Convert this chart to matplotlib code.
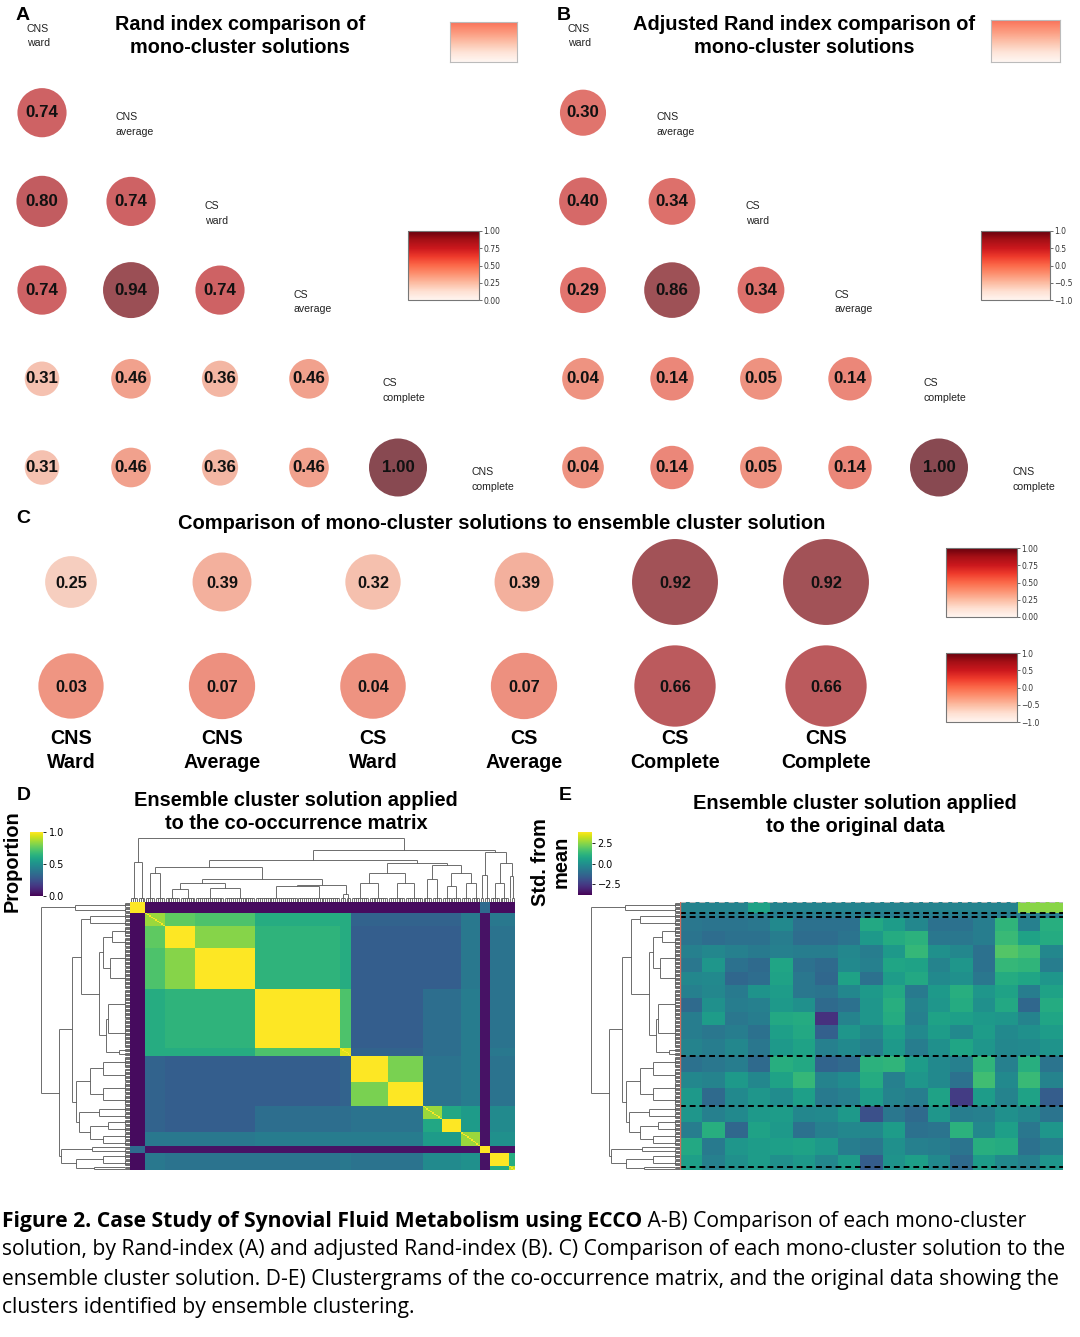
import colorsys
import numpy as np
import matplotlib
matplotlib.use('Agg')
import matplotlib.pyplot as plt
from matplotlib.collections import LineCollection
from matplotlib import colors as mcolors, cm, font_manager as fm

# ------------------------------------------------------------------ data
ab_labels = ['CNS\nward', 'CNS\naverage', 'CS\nward', 'CS\naverage', 'CS\ncomplete', 'CNS\ncomplete']
rand_rows = [[0.74],
             [0.80, 0.74],
             [0.74, 0.94, 0.74],
             [0.31, 0.46, 0.36, 0.46],
             [0.31, 0.46, 0.36, 0.46, 1.00]]
arand_rows = [[0.30],
              [0.40, 0.34],
              [0.29, 0.86, 0.34],
              [0.04, 0.14, 0.05, 0.14],
              [0.04, 0.14, 0.05, 0.14, 1.00]]

c_labels = ['CNS\nWard', 'CNS\nAverage', 'CS\nWard', 'CS\nAverage', 'CS\nComplete', 'CNS\nComplete']
c_rand = [0.25, 0.39, 0.32, 0.39, 0.92, 0.92]
c_arand = [0.03, 0.07, 0.04, 0.07, 0.66, 0.66]

# co-occurrence matrix: ordered sample groups and block proportions
seg_names = ['O1', 'C1a', 'C1b', 'C1c', 'C1d', 'C1e', 'C2a', 'C2b', 'C3a', 'C3b', 'C3c', 'O2', 'C4a', 'C4b']
seg_sizes = [8, 10, 16, 31, 44, 6, 19, 18, 10, 10, 10, 5, 10, 3]
seg_heights = [0.62, 0.45, 0.20, 0.22, 0.25, 0.12, 0.30, 0.30, 0.35, 0.25, 0.30, 0.42, 0.30, 0.40]
block_vals = [
    [1.00, .03, .03, .03, .03, .03, .03, .03, .03, .03, .03, .35, .03, .03],
    [.03, .85, .75, .72, .62, .62, .32, .32, .32, .32, .40, .05, .40, .40],
    [.03, .75, 1.0, .82, .65, .62, .30, .30, .30, .30, .40, .05, .38, .38],
    [.03, .72, .82, 1.0, .65, .62, .30, .30, .30, .30, .40, .05, .38, .38],
    [.03, .62, .65, .65, 1.0, .72, .30, .30, .36, .36, .42, .05, .38, .38],
    [.03, .62, .62, .62, .72, .95, .32, .32, .36, .36, .42, .05, .40, .40],
    [.03, .32, .30, .30, .30, .32, 1.0, .80, .38, .38, .42, .05, .38, .38],
    [.03, .32, .30, .30, .30, .32, .80, 1.0, .38, .38, .42, .05, .38, .38],
    [.03, .32, .30, .30, .36, .36, .38, .38, .85, .60, .55, .05, .48, .48],
    [.03, .32, .30, .30, .36, .36, .38, .38, .60, 1.0, .55, .05, .48, .48],
    [.03, .40, .40, .40, .42, .42, .42, .42, .55, .55, .85, .05, .50, .50],
    [.35, .05, .05, .05, .05, .05, .05, .05, .05, .05, .05, 1.0, .05, .05],
    [.03, .40, .38, .38, .38, .40, .38, .38, .48, .48, .50, .05, 1.0, .62],
    [.03, .40, .38, .38, .38, .40, .38, .38, .48, .48, .50, .05, .62, .90],
]
# dendrogram merges over groups: (child a, child b, height); ids >= 14 are earlier merges
merges = [
    (2, 3, 0.30),    # 14
    (4, 5, 0.27),    # 15
    (14, 15, 0.35),  # 16
    (1, 16, 0.55),   # 17
    (6, 7, 0.45),    # 18
    (9, 10, 0.45),   # 19
    (8, 19, 0.57),   # 20
    (18, 20, 0.60),  # 21
    (17, 21, 0.65),  # 22
    (12, 13, 0.60),  # 23
    (11, 23, 0.77),  # 24
    (22, 24, 0.80),  # 25
    (0, 25, 1.00),   # 26
]

# original data (std from mean): row bands (sample boundaries) x 17 variables
e_bounds = [0, 8, 12, 22, 32, 42, 52, 62, 72, 82, 92, 102, 115, 127, 139, 152, 164, 176, 189, 200]
e_vals = [
    [-0.4, -0.4, -0.4, 0.6, -0.4, -0.4, -0.4, -0.4, -0.4, -0.4, -0.4, -0.4, -0.4, -0.4, -0.4, 2.5, 2.5],
    [-0.6, -0.6, -0.6, -0.6, -0.6, -0.6, -0.6, -0.6, -0.6, -0.6, -0.6, -0.6, -0.6, -0.6, -0.6, -0.6, -0.6],
    [-0.8, -0.9, -0.9, -0.8, -0.2, -1.0, -1.0, -1.0, 0.8, 0.4, -0.3, -1.0, -1.0, -0.6, 1.2, -0.5, 1.0],
    [-0.9, -1.1, -1.0, -1.0, -0.6, -1.1, -1.1, -0.9, 0.3, 0.9, 1.1, -0.8, -0.8, -0.6, 1.4, 0.6, 0.9],
    [-0.5, -0.3, -0.5, -0.7, -0.5, -0.6, -0.6, -0.3, -0.6, 0.3, 1.3, 0.0, -0.3, -1.0, 1.8, 1.5, -0.3],
    [-0.8, 0.2, -1.0, -1.2, 0.7, -1.0, -1.2, -0.2, -0.5, 0.7, 0.6, -0.4, 0.2, -1.0, 1.3, 1.2, -0.6],
    [-0.3, -0.2, -1.3, -1.1, 0.6, -0.8, -1.3, 0.6, -1.0, 0.4, 0.8, -0.2, 0.0, -0.8, 0.9, 0.7, 0.2],
    [-0.5, -0.3, -0.7, 0.1, 0.4, -0.8, -0.9, -0.3, 0.3, 0.8, -0.7, 0.3, 1.0, 0.2, 0.6, -0.6, 0.6],
    [-1.2, 0.0, -0.6, -0.5, 0.3, 0.0, -1.2, -1.0, 0.2, 1.0, -0.4, 0.2, 0.9, 0.0, 0.8, -1.3, 0.9],
    [-0.6, 0.4, -0.8, -0.6, 0.8, 0.9, -2.8, -0.4, 0.2, 0.9, -0.5, 0.6, 0.5, 0.3, 0.2, -0.4, 0.7],
    [-0.6, -0.8, -0.6, -1.0, 0.5, 0.8, -1.5, 0.2, -0.3, 0.5, -0.2, 0.4, -0.2, 0.4, -0.2, 0.0, 0.4],
    [-0.4, -0.6, -0.3, -0.8, 0.3, 0.6, -0.5, -0.2, -0.6, 0.3, -0.6, 0.0, 0.7, 0.2, -0.3, -0.2, 0.1],
    [-1.0, -0.8, -0.6, -1.2, 1.0, 0.8, -1.4, -1.2, 1.1, 1.2, 0.4, -0.2, -0.5, 1.2, -0.5, 1.0, -0.9],
    [-0.3, -0.4, 0.3, -0.3, 0.6, 1.3, -0.4, -0.1, 0.9, -0.5, 0.2, -0.2, -1.0, 1.5, -0.2, 1.4, -0.4],
    [0.3, -1.2, -0.2, 0.2, -0.1, 0.5, -0.7, -0.5, 0.4, -0.4, -0.6, 0.6, -2.5, 0.4, -0.4, 0.6, -1.6],
    [0.2, -0.5, -0.2, 0.3, 0.4, -0.3, -0.2, 0.3, -2.0, -0.8, -1.2, 0.2, -0.6, -0.5, 0.0, -0.3, -0.9],
    [-0.6, 1.0, -1.3, 0.6, 0.3, -1.0, -0.5, -0.3, -0.3, 0.4, -1.0, -0.9, 1.1, -0.3, 0.5, -0.8, 0.2],
    [0.8, -0.7, 0.2, 0.4, 0.5, 0.6, 0.3, -0.6, -0.8, 0.0, -0.5, -0.6, -0.9, 1.0, 0.9, -1.0, -0.6],
    [0.5, -0.5, 0.0, 0.4, 0.0, 0.3, -0.3, 0.4, -1.6, 0.1, 0.5, -0.2, -1.2, 0.4, -0.2, -0.5, 0.2],
]
ens_bounds = [0, 8, 11, 115, 152, 198]

caption_bold = 'Figure 2. Case Study of Synovial Fluid Metabolism using ECCO'
caption_lines = [' A-B) Comparison of each mono-cluster',
                 'solution, by Rand-index (A) and adjusted Rand-index (B). C) Comparison of each mono-cluster solution to the',
                 'ensemble cluster solution. D-E) Clustergrams of the co-occurrence matrix, and the original data showing the',
                 'clusters identified by ensemble clustering.']

# ------------------------------------------------------------------ setup
plt.rcParams['font.family'] = ['Liberation Sans', 'DejaVu Sans']
W, H = 1080, 1337
fig = plt.figure(figsize=(W / 100, H / 100), dpi=100)
fig.patch.set_facecolor('white')
renderer = fig.canvas.get_renderer()


def add_ax(x0, y0, x1, y1):
    return fig.add_axes([x0 / W, 1 - y1 / H, (x1 - x0) / W, (y1 - y0) / H])


def fig_text(x, y, s, **kw):
    return fig.text(x / W, 1 - y / H, s, **kw)


def fit(t, target):
    w = t.get_window_extent(renderer).width
    t.set_fontsize(t.get_fontsize() * target / w)


reds = plt.get_cmap('Reds')
ALPHA = 0.74


def circ_color(nv, desat=0.82):
    r, g, b, _ = reds(nv)
    h, l, s = colorsys.rgb_to_hls(r, g, b)
    return colorsys.hls_to_rgb(h, l, s * desat)


def small_cbar(x0, y0, x1, y1, vmin, vmax, ticks):
    cax = add_ax(x0, y0, x1, y1)
    sm = cm.ScalarMappable(norm=mcolors.Normalize(vmin, vmax), cmap='Reds')
    cb = fig.colorbar(sm, cax=cax, ticks=ticks)
    cb.ax.tick_params(labelsize=5.5, length=2, width=0.5, pad=1, labelfontfamily='DejaVu Sans',
                      colors='#333333')
    cb.outline.set_edgecolor('#777777')
    cb.outline.set_linewidth(0.8)
    return cb


def grad_box(x0, y0, x1, y1):
    ax = add_ax(x0, y0, x1, y1)
    g = np.linspace(0.55, 0.0, 64)[:, None]
    ax.imshow(g, aspect='auto', cmap='Reds', vmin=0, vmax=1, alpha=0.85)
    ax.set_xticks([]); ax.set_yticks([])
    for sp in ax.spines.values():
        sp.set_edgecolor('#bbbbbb'); sp.set_linewidth(0.8)


def tri_panel(xc0, rows, normf):
    dx, dy, yc0 = 89.0, 88.7, 24.0
    ax = add_ax(xc0 - 0.5 * dx, yc0 - 0.5 * dy, xc0 + 5.5 * dx, yc0 + 5.5 * dy)
    ax.set_xlim(-0.5, 5.5); ax.set_ylim(5.5, -0.5); ax.axis('off')
    for i, vals in enumerate(rows, start=1):
        for j, v in enumerate(vals):
            nv = normf(v)
            d = 24 + 34 * nv
            ax.scatter([j], [i], s=(d * 0.72) ** 2, color=circ_color(nv), alpha=ALPHA,
                       edgecolors='none', clip_on=False)
            ax.text(j, i, f'{v:.2f}', ha='center', va='center', fontsize=12.2,
                    fontweight='bold', color='#111111')
    for k, lab in enumerate(ab_labels):
        ax.text(k - 0.17, k + 0.135, lab, ha='left', va='center', fontsize=7.6,
                linespacing=1.6, color='#222222')
    return ax


# ------------------------------------------------------------------ A & B
tri_panel(42, rand_rows, lambda v: v)
tri_panel(583, arand_rows, lambda v: (v + 1) / 2)
tA = fig_text(240, 36, 'Rand index comparison of\nmono-cluster solutions', ha='center', va='center',
              fontsize=14, fontweight='bold', linespacing=1.3)
fit(tA, 251)
tB = fig_text(804, 36, 'Adjusted Rand index comparison of\nmono-cluster solutions', ha='center', va='center',
              fontsize=14, fontweight='bold', linespacing=1.3)
fit(tB, 343)
grad_box(450, 22, 517, 62)
grad_box(991, 20, 1060, 62)
small_cbar(408, 231, 479, 300, 0, 1, [0, 0.25, 0.5, 0.75, 1.0])
small_cbar(981, 231, 1050, 300, -1, 1, [-1, -0.5, 0, 0.5, 1.0])

# ------------------------------------------------------------------ C
dxc = 151.0
axc = add_ax(71 - 0.5 * dxc, 530, 71 + 5.5 * dxc, 738)
axc.set_xlim(-0.5, 5.5); axc.set_ylim(1.5, -0.5); axc.axis('off')
for r, (vals, normf) in enumerate([(c_rand, lambda v: v), (c_arand, lambda v: (v + 1) / 2)]):
    for j, v in enumerate(vals):
        nv = normf(v)
        d = 39 + 51 * nv
        axc.scatter([j], [r], s=(d * 0.72) ** 2, color=circ_color(nv), alpha=ALPHA,
                    edgecolors='none', clip_on=False)
        axc.text(j, r + 0.01, f'{v:.2f}', ha='center', va='center', fontsize=11.8,
                 fontweight='bold', color='#111111')
for j, lab in enumerate(c_labels):
    axc.text(j, 1.62, lab, ha='center', va='center', fontsize=14.2, fontweight='bold',
             linespacing=1.3)
tC = fig_text(502, 523, 'Comparison of mono-cluster solutions to ensemble cluster solution',
              ha='center', va='center', fontsize=13, fontweight='bold')
fit(tC, 646)
small_cbar(946, 548, 1017, 617, 0, 1, [0, 0.25, 0.5, 0.75, 1.0])
small_cbar(946, 653, 1017, 722, -1, 1, [-1, -0.5, 0, 0.5, 1.0])

# panel letters
for s, x, y in [('A', 23, 15), ('B', 564, 15), ('C', 23, 518), ('D', 24, 795), ('E', 565, 795)]:
    fig_text(x, y, s, ha='center', va='center', fontsize=14, fontweight='bold')

# ------------------------------------------------------------------ dendrogram helper
N = int(sum(seg_sizes))
H_LOW = 0.06


def dendro_segments():
    lines = []
    pos = {}
    start = 0
    for k, (size, h) in enumerate(zip(seg_sizes, seg_heights)):
        xs = start + np.arange(size) + 0.5
        half = size // 2
        groups = [xs[:half], xs[half:]]
        centers = []
        for g in groups:
            for x in g:
                lines.append([(x, 0), (x, H_LOW)])
            lines.append([(g[0], H_LOW), (g[-1], H_LOW)])
            centers.append(g.mean())
        for c in centers:
            lines.append([(c, H_LOW), (c, h)])
        lines.append([(centers[0], h), (centers[1], h)])
        pos[k] = (np.mean(centers), h)
        start += size
    n = len(seg_sizes)
    for m, (a, b, h) in enumerate(merges):
        (xa, ha), (xb, hb) = pos[a], pos[b]
        lines += [[(xa, ha), (xa, h)], [(xb, hb), (xb, h)], [(xa, h), (xb, h)]]
        pos[n + m] = ((xa + xb) / 2, h)
    return lines


dlines = dendro_segments()


def draw_top(ax):
    ax.add_collection(LineCollection(dlines, colors='#555555', linewidths=0.6))
    ax.set_xlim(0, N); ax.set_ylim(0, 1.04); ax.axis('off')


def draw_left(ax):
    sw = [[(p[1], p[0]) for p in seg] for seg in dlines]
    ax.add_collection(LineCollection(sw, colors='#555555', linewidths=0.6))
    ax.set_ylim(N, 0); ax.set_xlim(1.03, 0); ax.axis('off')


# ------------------------------------------------------------------ D
seg_idx = np.repeat(np.arange(len(seg_sizes)), seg_sizes)
M = np.array(block_vals)[np.ix_(seg_idx, seg_idx)]
np.fill_diagonal(M, 1.0)

axd = add_ax(130, 902, 515, 1170)
axd.imshow(M, aspect='auto', cmap='viridis', vmin=0, vmax=1, interpolation='nearest',
           extent=(0, N, N, 0))
axd.axis('off')
draw_top(add_ax(130, 835, 515, 902))
draw_left(add_ax(38, 902, 130, 1170))

cax = add_ax(30, 832, 43, 896)
cb = fig.colorbar(cm.ScalarMappable(norm=mcolors.Normalize(0, 1), cmap='viridis'), cax=cax,
                  ticks=[0, 0.5, 1.0])
cb.ax.tick_params(labelsize=7, length=2.5, width=0.6, pad=1.5, labelfontfamily='DejaVu Sans')
cb.outline.set_visible(False)
fig_text(12, 861, 'Proportion', rotation=90, ha='center', va='center', fontsize=14.4, fontweight='bold')
tD = fig_text(296, 812, 'Ensemble cluster solution applied\nto the co-occurrence matrix',
              ha='center', va='center', fontsize=14, fontweight='bold', linespacing=1.3)
fit(tD, 325)

# ------------------------------------------------------------------ E
band_idx = np.repeat(np.arange(len(e_vals)), np.diff(e_bounds))
E = np.array(e_vals)[band_idx]
axe = add_ax(680, 902, 1063, 1170)
axe.imshow(E, aspect='auto', cmap='viridis', vmin=-3.9, vmax=3.9, interpolation='nearest',
           extent=(0, E.shape[1], N, 0))
axe.set_xlim(0, E.shape[1]); axe.set_ylim(N, 0)
for k, b in enumerate(ens_bounds):
    axe.axhline(b, color='#bbbbbb' if k == 0 else 'black', lw=1.4, ls=(0, (3, 2)))
axe.axvline(0.02, color='#d07060', lw=1.0)
axe.axis('off')
draw_left(add_ax(588, 902, 680, 1170))

cax = add_ax(578, 832, 592, 895)
cb = fig.colorbar(cm.ScalarMappable(norm=mcolors.Normalize(-3.9, 3.9), cmap='viridis'), cax=cax,
                  ticks=[-2.5, 0, 2.5])
cb.ax.tick_params(labelsize=7, length=2.5, width=0.6, pad=1.5, labelfontfamily='DejaVu Sans')
cb.outline.set_visible(False)
fig_text(551, 862, 'Std. from\nmean', rotation=90, ha='center', va='center', fontsize=14.4,
         fontweight='bold', linespacing=1.15)
tE = fig_text(855, 815, 'Ensemble cluster solution applied\nto the original data',
              ha='center', va='center', fontsize=14, fontweight='bold', linespacing=1.3)
fit(tE, 325)

# ------------------------------------------------------------------ caption
def has_font(name):
    try:
        fm.findfont(fm.FontProperties(family=name), fallback_to_default=False)
        return True
    except Exception:
        return False


cap_font = 'Liberation Sans Narrow' if has_font('Liberation Sans Narrow') else 'Open Sans'
cap_y = [1221, 1250, 1279, 1307]
probe = fig_text(2, cap_y[1], caption_lines[1], ha='left', va='center', fontsize=10, family=cap_font)
fit(probe, 1062)
cap_size = probe.get_fontsize()
probe.remove()

tb = fig_text(2, cap_y[0], caption_bold, ha='left', va='center', fontsize=cap_size,
              family=cap_font, fontweight='bold')
bb = tb.get_window_extent(renderer)
fig.text(bb.x1 / W, 1 - cap_y[0] / H, caption_lines[0], fontsize=cap_size, family=cap_font,
         ha='left', va='center')
for line, y in zip(caption_lines[1:], cap_y[1:]):
    fig_text(2, y, line, ha='left', va='center', fontsize=cap_size, family=cap_font)

fig.savefig('out.png', dpi=100, facecolor='white')
